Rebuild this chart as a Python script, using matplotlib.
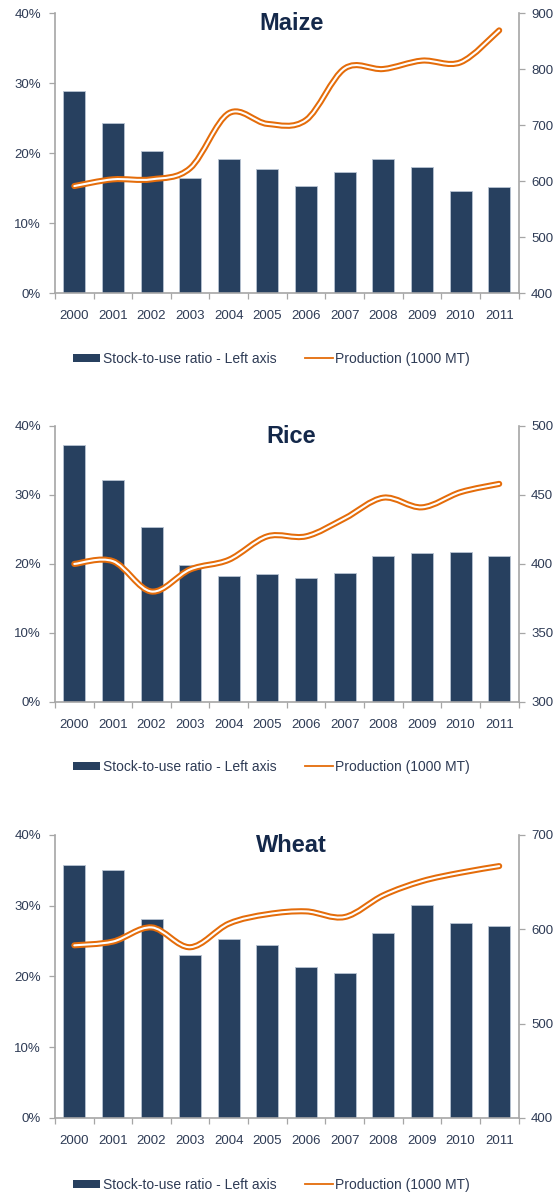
import numpy as np
import matplotlib
matplotlib.use('Agg')
import matplotlib.pyplot as plt
from matplotlib.path import Path
from matplotlib.patches import PathPatch, Patch
from matplotlib.lines import Line2D
from matplotlib.ticker import FuncFormatter, FixedLocator

plt.rcParams['font.family'] = ['Liberation Sans', 'DejaVu Sans']

years = ['2000', '2001', '2002', '2003', '2004', '2005',
         '2006', '2007', '2008', '2009', '2010', '2011']

# stock-to-use ratio (%), left axis
maize_ratio = [28.9, 24.3, 20.3, 16.4, 19.2, 17.7, 15.3, 17.3, 19.2, 18.0, 14.6, 15.1]
rice_ratio = [37.2, 32.1, 25.3, 19.8, 18.3, 18.6, 18.0, 18.7, 21.2, 21.6, 21.8, 21.2]
wheat_ratio = [35.7, 35.0, 28.1, 23.1, 25.3, 24.4, 21.3, 20.5, 26.1, 30.1, 27.6, 27.1]

# production (1000 MT), right axis
maize_prod = [591, 603, 603, 623, 721, 702, 709, 801, 800, 815, 812, 869]
rice_prod = [400, 402, 380, 396, 403, 420, 420, 433, 448, 441, 452, 458]
wheat_prod = [583, 587, 602, 581, 606, 616, 619, 613, 636, 651, 660, 667]

# name, bars, line, right limits, right ticks, axes rect, legend offset (px below axis)
panels = [
    ('Maize', maize_ratio, maize_prod, (400, 900), np.arange(400, 901, 100), [0.0982, 0.7546, 0.8277, 0.2345], 66),
    ('Rice', rice_ratio, rice_prod, (300, 500), np.arange(300, 501, 50), [0.0982, 0.4121, 0.8277, 0.2312], 65),
    ('Wheat', wheat_ratio, wheat_prod, (400, 700), np.arange(400, 701, 100), [0.0982, 0.0637, 0.8277, 0.2370], 67),
]

BAR = '#27405f'
ORANGE = '#e46c0a'
SPINE = '#a6a6a6'
TXT = '#2e3b55'
TITLE = '#14284a'
H = 1194


def smooth_path(x, y):
    # cubic bezier through every point (same smoothing as a spreadsheet "smoothed line")
    x = np.asarray(x, float)
    y = np.asarray(y, float)
    n = len(x)
    verts = [(x[0], y[0])]
    codes = [Path.MOVETO]
    for i in range(n - 1):
        x0, y0 = (x[i - 1], y[i - 1]) if i > 0 else (x[i], y[i])
        x3, y3 = (x[i + 2], y[i + 2]) if i + 2 < n else (x[i + 1], y[i + 1])
        c1 = (x[i] + (x[i + 1] - x0) / 6, y[i] + (y[i + 1] - y0) / 6)
        c2 = (x[i + 1] - (x3 - x[i]) / 6, y[i + 1] - (y3 - y[i]) / 6)
        verts += [c1, c2, (x[i + 1], y[i + 1])]
        codes += [Path.CURVE4] * 3
    return Path(verts, codes)


fig = plt.figure(figsize=(5.6, 11.94), dpi=100)
xs = np.arange(len(years))

for name, ratio, prod, rlim, rticks, pos, leg_off in panels:
    ax = fig.add_axes(pos)
    ax.bar(xs, ratio, width=0.57, color=BAR, edgecolor='#b8c3d2', linewidth=0.6, zorder=2)
    ax.set_xlim(-0.5, len(years) - 0.5)
    ax.set_ylim(0, 40)
    ax.set_yticks([0, 10, 20, 30, 40])
    ax.yaxis.set_major_formatter(FuncFormatter(lambda v, p: '%d%%' % v))
    ax.set_xticks(xs)
    ax.set_xticklabels(years)
    ax.xaxis.set_minor_locator(FixedLocator(np.arange(-0.5, len(years), 1)))
    ax.tick_params(axis='x', which='major', length=0, pad=12.5, labelsize=9.5, labelcolor=TXT)
    ax.tick_params(axis='x', which='minor', length=4, width=0.9, color=SPINE)
    ax.tick_params(axis='y', length=4, width=0.9, color=SPINE, labelsize=9.5, labelcolor=TXT, pad=6)
    for s in ['top', 'right']:
        ax.spines[s].set_visible(False)
    for s in ['left', 'bottom']:
        ax.spines[s].set_color(SPINE)
        ax.spines[s].set_linewidth(1.2)

    ax2 = ax.twinx()
    ax2.set_ylim(*rlim)
    ax2.set_yticks(rticks)
    ax2.tick_params(axis='y', length=4, width=0.9, color=SPINE, labelsize=9.5, labelcolor=TXT, pad=5)
    for s in ['top', 'left', 'bottom']:
        ax2.spines[s].set_visible(False)
    ax2.spines['right'].set_color(SPINE)
    ax2.spines['right'].set_linewidth(1.2)

    path = smooth_path(xs, prod)
    ax2.add_patch(PathPatch(path, fill=False, edgecolor=ORANGE, lw=4.4, capstyle='round', joinstyle='round', zorder=3))
    ax2.add_patch(PathPatch(path, fill=False, edgecolor='white', lw=1.5, capstyle='round', joinstyle='round', zorder=4))

    ax.text(0.51, 0.963, name, transform=ax.transAxes, ha='center', va='center',
            fontsize=17, fontweight='bold', color=TITLE, zorder=5)

    handles = [Patch(facecolor=BAR, edgecolor='none'),
               Line2D([0], [0], color=ORANGE, lw=1.3)]
    ax.legend(handles, ['Stock-to-use ratio - Left axis', 'Production (1000 MT)'],
              loc='center', bbox_to_anchor=(0.467, -leg_off / (pos[3] * H)), ncol=2, frameon=False,
              fontsize=10, labelcolor=TXT, handlelength=1.95, handleheight=0.58,
              handletextpad=0.2, columnspacing=2.1, borderpad=0)

fig.savefig('out.png', dpi=100)
